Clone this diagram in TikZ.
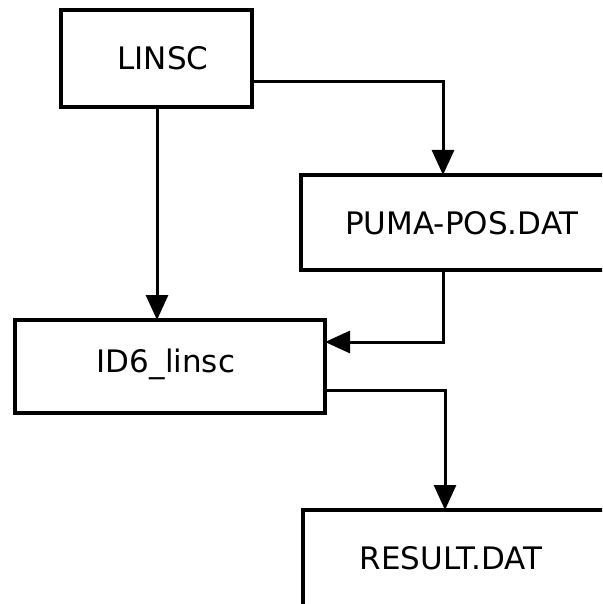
\documentclass[tikz,border=0pt]{standalone}
\usepackage{fontspec}
\setmainfont{DejaVu Sans}
\usetikzlibrary{arrows.meta}
\begin{document}
\begin{tikzpicture}[x=1pt,y=-1pt,
  box/.style={draw=black,line width=3.2pt,rectangle,inner sep=0pt,outer sep=0pt},
  lbl/.style={inner sep=0pt,font=\fontsize{31}{36}\selectfont},
  conn/.style={draw=black,line width=3pt,-{Triangle[width=22pt,length=25pt]}}]
\useasboundingbox (0,0) rectangle (602,604);
\clip (0,0) rectangle (602,604);
\node[box,minimum width=191pt,minimum height=97pt] (linsc) at (156.5,58.5) {};
\node[lbl] (linsclbl) at (163,58) {LINSC};
\node[box,minimum width=323pt,minimum height=95pt] (puma) at (462.5,222.5) {};
\node[lbl] (pumalbl) at (462,223) {PUMA-POS.DAT};
\node[box,minimum width=310pt,minimum height=93pt] (id6) at (170,366.5) {};
\node[lbl] (id6lbl) at (166,364) {ID6\_linsc};
\node[box,minimum width=330pt,minimum height=140pt,anchor=north west] (result) at (303,510) {};
\node[lbl] (resultlbl) at (451,558) {RESULT.DAT};
\draw[conn] (linsc.east |- 0,82) -| (443,0 |- puma.north);
\draw[conn] (157,0 |- linsc.south) -- (157,0 |- id6.north);
\draw[conn] (443,0 |- puma.south) |- (id6.east |- 0,342);
\draw[conn] (id6.east |- 0,390) -| (445,0 |- result.north);
\end{tikzpicture}
\end{document}
